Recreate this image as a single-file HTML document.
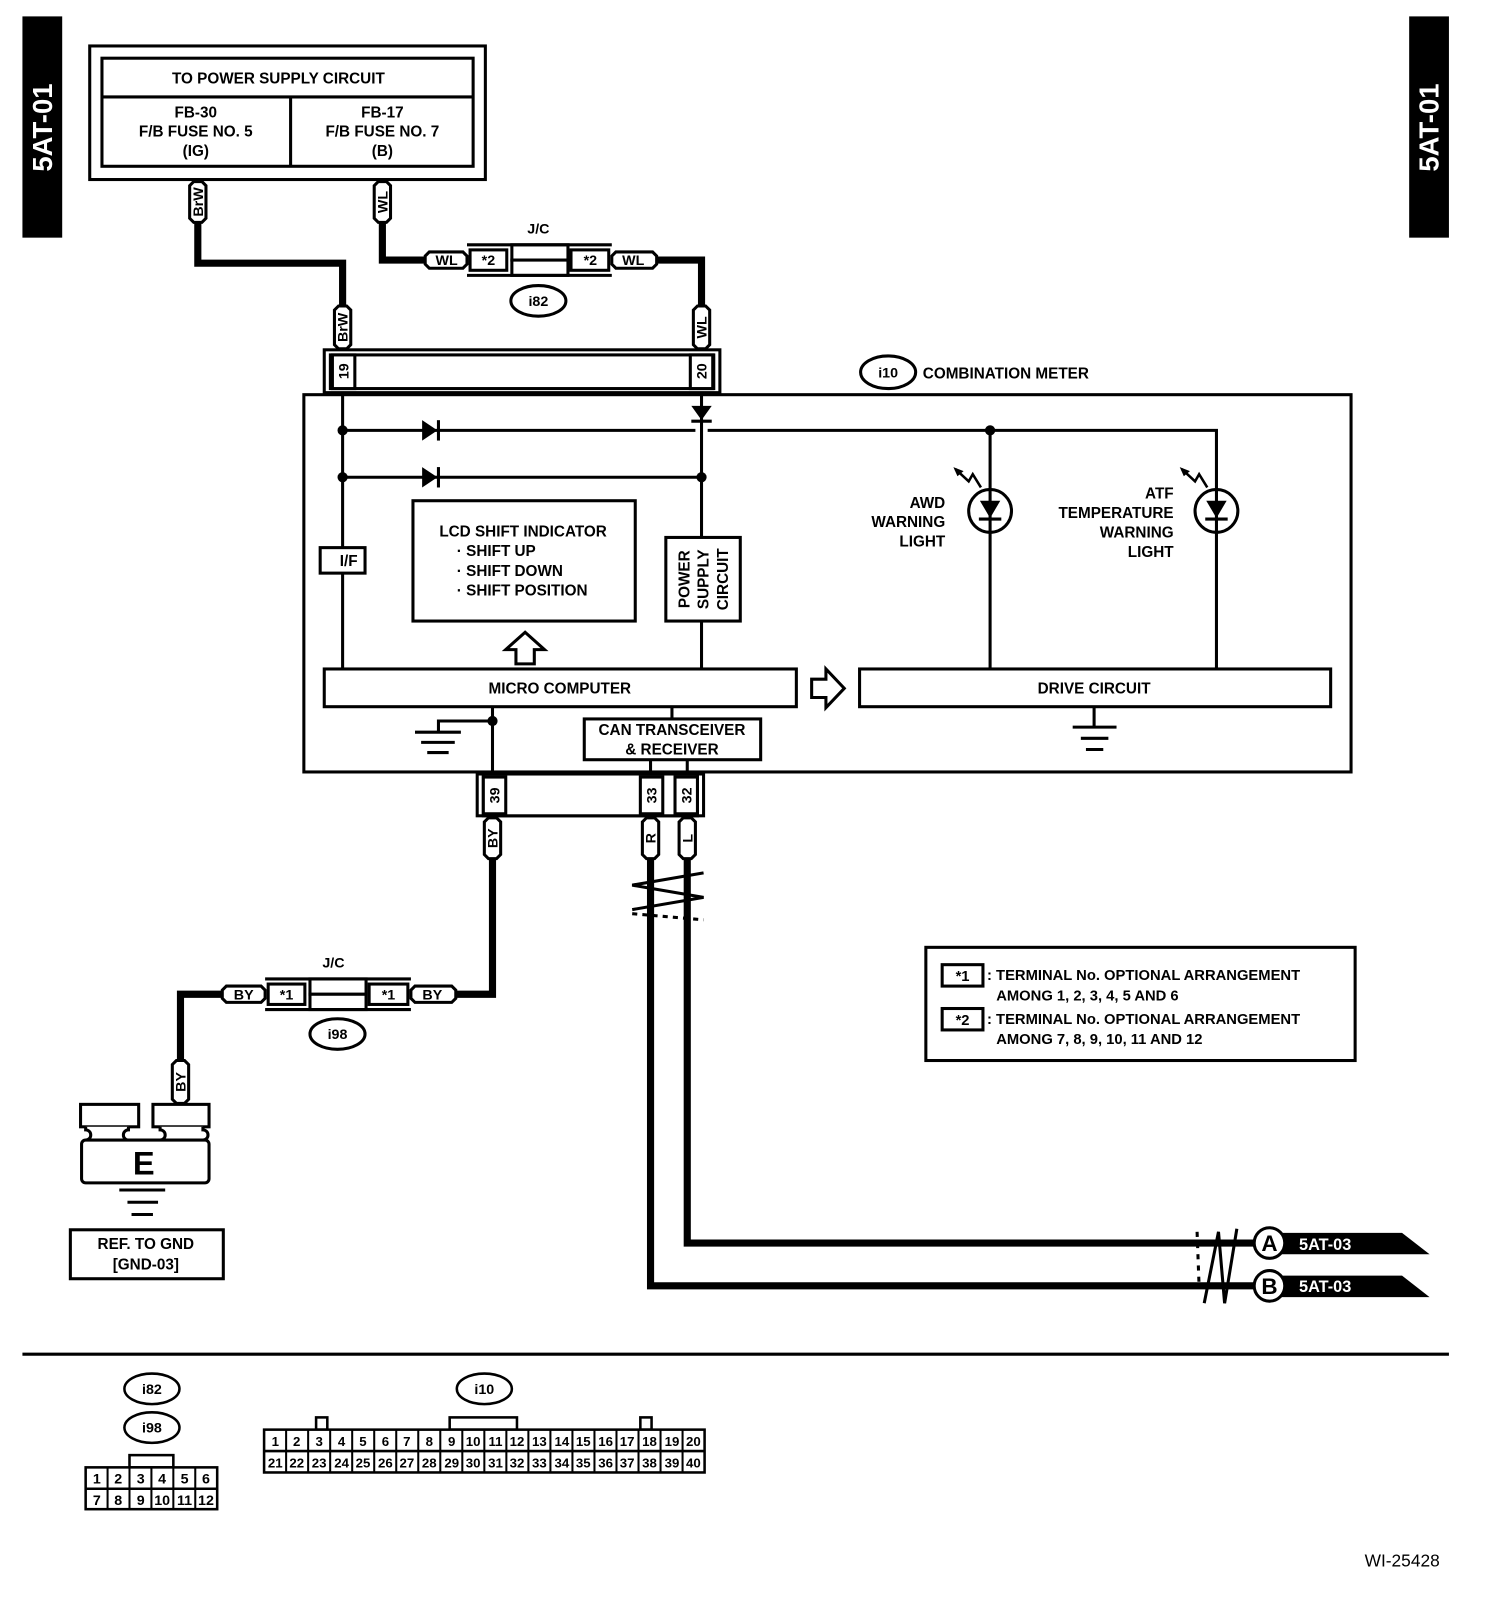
<!DOCTYPE html>
<html><head><meta charset="utf-8"><style>
html,body{margin:0;padding:0;background:#fff;}
svg{display:block;}
text{font-family:"Liberation Sans",Arial,sans-serif;font-weight:bold;fill:#000;}
</style></head><body>
<svg width="1504" height="1600" viewBox="0 0 1475 1569" xmlns="http://www.w3.org/2000/svg">
<rect width="1475" height="1569" fill="#fff"/>
<rect x="22" y="16" width="39" height="217" fill="#000"/>
<text transform="translate(51,125) rotate(-90)" text-anchor="middle" font-size="27" style="fill:#fff">5AT-01</text>
<rect x="1382" y="16" width="39" height="217" fill="#000"/>
<text transform="translate(1411,125) rotate(-90)" text-anchor="middle" font-size="27" style="fill:#fff">5AT-01</text>

<g fill="none" stroke="#000">
<rect x="88" y="45" width="388" height="131" stroke-width="3"/>
<rect x="100" y="57" width="364" height="106" stroke-width="3"/>
<line x1="100" y1="95" x2="464" y2="95" stroke-width="3"/>
<line x1="285" y1="95" x2="285" y2="163" stroke-width="3"/>
<polyline points="194,218 194,258 336,258 336,300" stroke-width="7"/>
<polyline points="375,218 375,255 417,255" stroke-width="7"/>
<polyline points="644,255 688,255 688,300" stroke-width="7"/>
<polyline points="483,842 483,975 447,975" stroke-width="7"/>
<polyline points="218,975 177,975 177,1040" stroke-width="7"/>
<polyline points="638,842 638,1261 1230,1261" stroke-width="7"/>
<polyline points="674,842 674,1219 1230,1219" stroke-width="7"/>
</g>

<g font-size="15" text-anchor="middle">
<text x="273" y="82">TO POWER SUPPLY CIRCUIT</text>
<text x="192" y="115">FB-30</text><text x="192" y="134">F/B FUSE NO. 5</text><text x="192" y="153">(IG)</text>
<text x="375" y="115">FB-17</text><text x="375" y="134">F/B FUSE NO. 7</text><text x="375" y="153">(B)</text>
</g>

<g stroke="#000" stroke-width="3" fill="#fff">
<path d="M186,182 l4,-4 h8 l4,4 v32 l-4,4 h-8 l-4,-4z"/>
<path d="M367,182 l4,-4 h8 l4,4 v32 l-4,4 h-8 l-4,-4z"/>
<path d="M328,304 l4,-4 h8 l4,4 v34 l-4,4 h-8 l-4,-4z"/>
<path d="M680,304 l4,-4 h8 l4,4 v34 l-4,4 h-8 l-4,-4z"/>
<path d="M475,806 l4,-4 h8 l4,4 v32 l-4,4 h-8 l-4,-4z"/>
<path d="M630,806 l4,-4 h8 l4,4 v32 l-4,4 h-8 l-4,-4z"/>
<path d="M666,806 l4,-4 h8 l4,4 v32 l-4,4 h-8 l-4,-4z"/>
<path d="M169,1044 l4,-4 h8 l4,4 v34 l-4,4 h-8 l-4,-4z"/>
</g>
<g font-size="14" text-anchor="middle">
<text transform="translate(199,198) rotate(-90)">BrW</text>
<text transform="translate(380,198) rotate(-90)">WL</text>
<text transform="translate(341,321) rotate(-90)">BrW</text>
<text transform="translate(693,321) rotate(-90)">WL</text>
<text transform="translate(488,822) rotate(-90)">BY</text>
<text transform="translate(643,822) rotate(-90)">R</text>
<text transform="translate(679,822) rotate(-90)">L</text>
<text transform="translate(182,1061) rotate(-90)">BY</text>
</g>

<g stroke="#000" stroke-width="3" fill="#fff">
<path d="M421,247 h33 l4,4 v8 l-4,4 h-33 l-4,-4 v-8z"/>
<path d="M604,247 h36 l4,4 v8 l-4,4 h-36 l-4,-4 v-8z"/>
<rect x="461" y="245" width="36" height="20"/>
<rect x="560" y="245" width="37" height="20"/>
<rect x="502" y="240" width="55" height="15"/>
<rect x="502" y="255" width="55" height="15"/>
<line x1="458" y1="240" x2="600" y2="240"/>
<line x1="458" y1="270" x2="600" y2="270"/>
<ellipse cx="528" cy="295" rx="27" ry="15"/>
</g>
<g font-size="14" text-anchor="middle">
<text x="438" y="260">WL</text><text x="479" y="260">*2</text><text x="579" y="260">*2</text><text x="621" y="260">WL</text>
<text x="528" y="229">J/C</text><text x="528" y="300">i82</text>
</g>

<g stroke="#000" stroke-width="3" fill="#fff">
<path d="M222,967 h34 l4,4 v8 l-4,4 h-34 l-4,-4 v-8z"/>
<path d="M407,967 h36 l4,4 v8 l-4,4 h-36 l-4,-4 v-8z"/>
<rect x="263" y="965" width="36" height="20"/>
<rect x="362" y="965" width="38" height="20"/>
<rect x="304" y="960" width="55" height="15"/>
<rect x="304" y="975" width="55" height="15"/>
<line x1="260" y1="960" x2="403" y2="960"/>
<line x1="260" y1="990" x2="403" y2="990"/>
<ellipse cx="331" cy="1014" rx="27" ry="15"/>
</g>
<g font-size="14" text-anchor="middle">
<text x="239" y="980">BY</text><text x="281" y="980">*1</text><text x="381" y="980">*1</text><text x="424" y="980">BY</text>
<text x="327" y="949">J/C</text><text x="331" y="1019">i98</text>
</g>

<g stroke="#000" stroke-width="3" fill="#fff">
<rect x="318" y="343" width="388" height="42"/>
<rect x="324" y="348" width="376" height="33"/>
<rect x="326" y="348" width="22" height="33"/>
<rect x="677" y="348" width="22" height="33"/>
<rect x="468" y="759" width="222" height="41"/>
<rect x="474" y="759" width="210" height="41"/>
<rect x="474" y="762" width="22" height="36"/>
<rect x="628" y="762" width="22" height="36"/>
<rect x="662" y="762" width="22" height="36"/>
</g>
<g font-size="14" text-anchor="middle">
<text transform="translate(342,364) rotate(-90)">19</text>
<text transform="translate(693,364) rotate(-90)">20</text>
<text transform="translate(490,780) rotate(-90)">39</text>
<text transform="translate(644,780) rotate(-90)">33</text>
<text transform="translate(678,780) rotate(-90)">32</text>
</g>

<ellipse cx="871" cy="365" rx="27" ry="16" fill="#fff" stroke="#000" stroke-width="3"/>
<text x="871" y="370" font-size="14" text-anchor="middle">i10</text>
<text x="905" y="371" font-size="15">COMBINATION METER</text>

<g fill="none" stroke="#000" stroke-width="3">
<rect x="298" y="387" width="1027" height="370"/>
<line x1="336" y1="385" x2="336" y2="656"/>
<line x1="688" y1="385" x2="688" y2="656"/>
<line x1="336" y1="422" x2="682" y2="422"/>
<polyline points="694,422 1193,422 1193,656"/>
<line x1="336" y1="468" x2="688" y2="468"/>
<line x1="971" y1="422" x2="971" y2="656"/>
<line x1="659" y1="693" x2="659" y2="705"/>
<line x1="638" y1="745" x2="638" y2="759"/>
<line x1="674" y1="745" x2="674" y2="759"/>
<line x1="483" y1="693" x2="483" y2="759"/>
<polyline points="483,707 430,707 430,718"/>
<line x1="407" y1="718" x2="452" y2="718"/>
<line x1="413" y1="728" x2="446" y2="728"/>
<line x1="419" y1="738" x2="440" y2="738"/>
<line x1="1073" y1="693" x2="1073" y2="713"/>
<line x1="1052" y1="713" x2="1095" y2="713"/>
<line x1="1060" y1="724" x2="1087" y2="724"/>
<line x1="1065" y1="735" x2="1082" y2="735"/>
<rect x="314" y="537" width="44" height="25" fill="#fff"/>
<rect x="405" y="491" width="218" height="118"/>
<rect x="653" y="527" width="73" height="82" fill="#fff"/>
<rect x="318" y="656" width="463" height="37" fill="#fff"/>
<rect x="843" y="656" width="462" height="37" fill="#fff"/>
<rect x="573" y="705" width="173" height="40" fill="#fff"/>
<path d="M506,651 v-14 h-10 l19,-17 l19,17 h-10 v14z"/>
<path d="M796,666 h14 v-10 l18,19 l-18,19 v-10 h-14z"/>
<circle cx="971" cy="501" r="21"/>
<circle cx="1193" cy="501" r="21"/>
<line x1="960" y1="509" x2="982" y2="509"/>
<line x1="1182" y1="509" x2="1204" y2="509"/>
<line x1="430" y1="412" x2="430" y2="432"/>
<line x1="430" y1="458" x2="430" y2="478"/>
<line x1="678" y1="413" x2="698" y2="413"/>
<polyline points="937,460 950,472 954,465 962,478" stroke-width="2.5"/>
<polyline points="1159,460 1172,472 1176,465 1184,478" stroke-width="2.5"/>
</g>
<g fill="#000">
<circle cx="336" cy="422" r="5"/><circle cx="336" cy="468" r="5"/>
<circle cx="688" cy="468" r="5"/><circle cx="971" cy="422" r="5"/>
<circle cx="483" cy="707" r="5"/>
<polygon points="414,412 429,422 414,432"/>
<polygon points="414,458 429,468 414,478"/>
<polygon points="678,398 698,398 688,412"/>
<polygon points="961,491 981,491 971,508"/>
<polygon points="1183,491 1203,491 1193,508"/>
<polygon points="935,458 945,462 939,467"/>
<polygon points="1157,458 1167,462 1161,467"/>
</g>
<g font-size="15">
<text x="342" y="555" text-anchor="middle">I/F</text>
<text x="513" y="526" text-anchor="middle">LCD SHIFT INDICATOR</text>
<text x="448" y="545">· SHIFT UP</text>
<text x="448" y="565">· SHIFT DOWN</text>
<text x="448" y="584">· SHIFT POSITION</text>
<text transform="translate(676,568) rotate(-90)" text-anchor="middle">POWER</text>
<text transform="translate(695,568) rotate(-90)" text-anchor="middle">SUPPLY</text>
<text transform="translate(714,568) rotate(-90)" text-anchor="middle">CIRCUIT</text>
<text x="549" y="680" text-anchor="middle">MICRO COMPUTER</text>
<text x="1073" y="680" text-anchor="middle">DRIVE CIRCUIT</text>
<text x="659" y="721" text-anchor="middle">CAN TRANSCEIVER</text>
<text x="659" y="740" text-anchor="middle">&amp; RECEIVER</text>
<g text-anchor="end">
<text x="927" y="498">AWD</text><text x="927" y="517">WARNING</text><text x="927" y="536">LIGHT</text>
<text x="1151" y="489">ATF</text><text x="1151" y="508">TEMPERATURE</text><text x="1151" y="527">WARNING</text><text x="1151" y="546">LIGHT</text>
</g>
</g>

<g stroke="#000" stroke-width="3" fill="none">
<polyline points="690,856 620,868 690,880 620,892"/>
<polyline points="620,896 690,902" stroke-dasharray="5,5"/>
<polyline points="1181,1278 1195,1208 1201,1278 1213,1205"/>
<line x1="1174" y1="1208" x2="1176" y2="1262" stroke-dasharray="5,6"/>
</g>
<g>
<polygon points="1250,1209 1375,1209 1402,1230 1250,1230" fill="#000"/>
<polygon points="1250,1251 1375,1251 1402,1272 1250,1272" fill="#000"/>
<circle cx="1245" cy="1219" r="15" fill="#fff" stroke="#000" stroke-width="3"/>
<circle cx="1245" cy="1261" r="15" fill="#fff" stroke="#000" stroke-width="3"/>
<text x="1245" y="1227" font-size="22" text-anchor="middle">A</text>
<text x="1245" y="1269" font-size="22" text-anchor="middle">B</text>
<text x="1274" y="1226" font-size="16" style="fill:#fff">5AT-03</text>
<text x="1274" y="1267" font-size="16" style="fill:#fff">5AT-03</text>
</g>

<g stroke="#000" stroke-width="3" fill="#fff">
<rect x="79" y="1083" width="57" height="22"/>
<rect x="150" y="1083" width="55" height="22"/>
<path d="M84,1105 v3 a5,5 0 0 1 0,10 h42 a5,5 0 0 1 0,-10 v-3 M157,1105 v3 a5,5 0 0 1 0,10 h42 a5,5 0 0 0 0,-10 v-3"/>
<path d="M84,1118 h117 a4,4 0 0 1 4,4 v34 a4,4 0 0 1 -4,4 h-117 a4,4 0 0 1 -4,-4 v-34 a4,4 0 0 1 4,-4z"/>
<line x1="117" y1="1167" x2="162" y2="1167"/>
<line x1="125" y1="1179" x2="155" y2="1179"/>
<line x1="129" y1="1191" x2="150" y2="1191"/>
<rect x="69" y="1206" width="150" height="48"/>
</g>
<text x="141" y="1152" font-size="32" text-anchor="middle">E</text>
<text x="143" y="1225" font-size="15" text-anchor="middle">REF. TO GND</text>
<text x="143" y="1245" font-size="15" text-anchor="middle">[GND-03]</text>

<rect x="908" y="929" width="421" height="111" fill="#fff" stroke="#000" stroke-width="3"/>
<rect x="924" y="946" width="40" height="21" fill="#fff" stroke="#000" stroke-width="3"/>
<rect x="924" y="989" width="40" height="21" fill="#fff" stroke="#000" stroke-width="3"/>
<g font-size="14.5">
<text x="944" y="962" text-anchor="middle">*1</text>
<text x="944" y="1005" text-anchor="middle">*2</text>
<text x="968" y="961">: TERMINAL No. OPTIONAL ARRANGEMENT</text>
<text x="977" y="981">AMONG 1, 2, 3, 4, 5 AND 6</text>
<text x="968" y="1004">: TERMINAL No. OPTIONAL ARRANGEMENT</text>
<text x="977" y="1024">AMONG 7, 8, 9, 10, 11 AND 12</text>
</g>

<line x1="22" y1="1328" x2="1421" y2="1328" stroke="#000" stroke-width="3"/>

<g stroke="#000" stroke-width="2.5" fill="#fff">
<ellipse cx="149" cy="1362" rx="27" ry="15"/>
<ellipse cx="149" cy="1400" rx="27" ry="15"/>
<ellipse cx="475" cy="1362" rx="27" ry="15"/>
<rect x="127" y="1427" width="43" height="12"/>
<rect x="84" y="1439" width="129" height="41"/>
<line x1="84" y1="1460" x2="213" y2="1460"/>
<rect x="310" y="1390" width="11" height="12"/>
<rect x="441" y="1390" width="66" height="12"/>
<rect x="628" y="1390" width="11" height="12"/>
<rect x="259" y="1402" width="432" height="42"/>
<line x1="259" y1="1423" x2="691" y2="1423"/>
</g>
<g stroke="#000" stroke-width="2">
<line x1="105.5" y1="1439" x2="105.5" y2="1480"/><line x1="127" y1="1439" x2="127" y2="1480"/>
<line x1="148.5" y1="1439" x2="148.5" y2="1480"/><line x1="170" y1="1439" x2="170" y2="1480"/>
<line x1="191.5" y1="1439" x2="191.5" y2="1480"/>
</g>
<g font-size="14" text-anchor="middle" style="font-weight:normal">
<text x="149" y="1367" style="font-weight:bold">i82</text>
<text x="149" y="1405" style="font-weight:bold">i98</text>
<text x="475" y="1367" style="font-weight:bold">i10</text>
<text x="95" y="1455">1</text><text x="116" y="1455">2</text><text x="138" y="1455">3</text><text x="159" y="1455">4</text><text x="181" y="1455">5</text><text x="202" y="1455">6</text>
<text x="95" y="1476">7</text><text x="116" y="1476">8</text><text x="138" y="1476">9</text><text x="159" y="1476">10</text><text x="181" y="1476">11</text><text x="202" y="1476">12</text>
</g>
<g stroke="#000" stroke-width="2">
<line x1="280.6" y1="1402" x2="280.6" y2="1444"/><line x1="302.2" y1="1402" x2="302.2" y2="1444"/><line x1="323.8" y1="1402" x2="323.8" y2="1444"/><line x1="345.4" y1="1402" x2="345.4" y2="1444"/><line x1="367" y1="1402" x2="367" y2="1444"/><line x1="388.6" y1="1402" x2="388.6" y2="1444"/><line x1="410.2" y1="1402" x2="410.2" y2="1444"/><line x1="431.8" y1="1402" x2="431.8" y2="1444"/><line x1="453.4" y1="1402" x2="453.4" y2="1444"/><line x1="475" y1="1402" x2="475" y2="1444"/><line x1="496.6" y1="1402" x2="496.6" y2="1444"/><line x1="518.2" y1="1402" x2="518.2" y2="1444"/><line x1="539.8" y1="1402" x2="539.8" y2="1444"/><line x1="561.4" y1="1402" x2="561.4" y2="1444"/><line x1="583" y1="1402" x2="583" y2="1444"/><line x1="604.6" y1="1402" x2="604.6" y2="1444"/><line x1="626.2" y1="1402" x2="626.2" y2="1444"/><line x1="647.8" y1="1402" x2="647.8" y2="1444"/><line x1="669.4" y1="1402" x2="669.4" y2="1444"/>
</g>
<g font-size="13" text-anchor="middle" style="font-weight:normal">
<text x="270" y="1418">1</text><text x="291" y="1418">2</text><text x="313" y="1418">3</text><text x="335" y="1418">4</text><text x="356" y="1418">5</text><text x="378" y="1418">6</text><text x="399" y="1418">7</text><text x="421" y="1418">8</text><text x="443" y="1418">9</text><text x="464" y="1418">10</text><text x="486" y="1418">11</text><text x="507" y="1418">12</text><text x="529" y="1418">13</text><text x="551" y="1418">14</text><text x="572" y="1418">15</text><text x="594" y="1418">16</text><text x="615" y="1418">17</text><text x="637" y="1418">18</text><text x="659" y="1418">19</text><text x="680" y="1418">20</text>
<text x="270" y="1439">21</text><text x="291" y="1439">22</text><text x="313" y="1439">23</text><text x="335" y="1439">24</text><text x="356" y="1439">25</text><text x="378" y="1439">26</text><text x="399" y="1439">27</text><text x="421" y="1439">28</text><text x="443" y="1439">29</text><text x="464" y="1439">30</text><text x="486" y="1439">31</text><text x="507" y="1439">32</text><text x="529" y="1439">33</text><text x="551" y="1439">34</text><text x="572" y="1439">35</text><text x="594" y="1439">36</text><text x="615" y="1439">37</text><text x="637" y="1439">38</text><text x="659" y="1439">39</text><text x="680" y="1439">40</text>
</g>

<text x="1412" y="1536" font-size="17" text-anchor="end" style="font-weight:normal">WI-25428</text>
</svg>
</body></html>
